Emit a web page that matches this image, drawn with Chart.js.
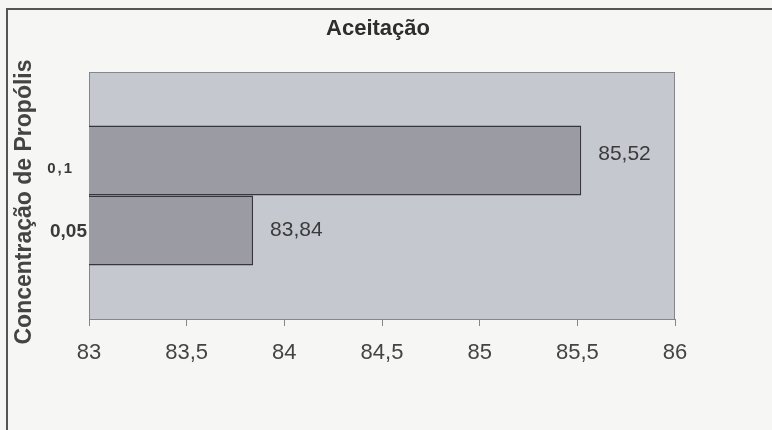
<!DOCTYPE html>
<html><head><meta charset="utf-8">
<script src="https://cdn.jsdelivr.net/npm/chart.js@4"></script>
<style>
html,body{margin:0;padding:0;background:#f6f6f4;}
#wrap{position:relative;width:772px;height:430px;overflow:hidden;}
#frame{position:absolute;left:6px;top:8px;width:800px;height:500px;border-left:2px solid #555;border-top:2px solid #555;}
canvas{position:absolute;left:0;top:0;}
</style></head>
<body><div id="wrap"><div id="frame"></div><canvas id="c" width="772" height="430"></canvas></div>
<script>
const chartTitle = 'Aceitação';
const yAxisTitle = 'Concentração de Propólis';
const concentrations = ['0,1', '0,05'];
const acceptance = [85.52, 83.84];
const xTicks = [83, 83.5, 84, 84.5, 85, 85.5, 86];

const fmt = v => String(v).replace('.', ',');
const labelFonts = ['bold 15px "Liberation Sans", Arial', 'bold 19px "Liberation Sans", Arial'];
const labelSpacing = ['2px', '0px'];
const labelRight = [74, 87];
const labelDy = [8, 1];

const deco = {
  id: 'deco',
  beforeDraw(chart) {
    const {ctx, chartArea: a} = chart;
    ctx.save();
    ctx.fillStyle = '#c6c8d0';
    ctx.fillRect(a.left, a.top, a.right - a.left, a.bottom - a.top);
    ctx.strokeStyle = '#85868c';
    ctx.lineWidth = 1;
    ctx.strokeRect(a.left + 0.5, a.top + 0.5, a.right - a.left - 1, a.bottom - a.top);
    ctx.restore();
  },
  afterDraw(chart) {
    const {ctx, chartArea: a} = chart;
    ctx.save();
    ctx.fillStyle = '#2e2e2e';
    ctx.font = 'bold 22px "Liberation Sans", Arial';
    ctx.textAlign = 'center';
    ctx.textBaseline = 'middle';
    ctx.fillText(chartTitle, (a.left + a.right) / 2 - 4, 29);
    ctx.save();
    ctx.translate(25, 202);
    ctx.rotate(-Math.PI / 2);
    ctx.font = 'bold 23px "Liberation Sans", Arial';
    ctx.fillStyle = '#444';
    ctx.fillText(yAxisTitle, 0, 0);
    ctx.restore();
    chart.data.datasets.forEach((ds, i) => {
      const bar = chart.getDatasetMeta(i).data[0];
      ctx.font = '21px "Liberation Sans", Arial';
      ctx.fillStyle = '#3a3a3a';
      ctx.textAlign = 'left';
      ctx.letterSpacing = '0px';
      ctx.fillText(fmt(ds.data[0]), bar.x + 17, bar.y - (i === 0 ? 6 : 0));
      ctx.font = labelFonts[i];
      ctx.letterSpacing = labelSpacing[i];
      ctx.fillStyle = '#3a3a3a';
      ctx.textAlign = 'right';
      ctx.fillText(ds.label, labelRight[i], bar.y + labelDy[i]);
    });
    ctx.restore();
  }
};

new Chart(document.getElementById('c'), {
  type: 'bar',
  data: {
    labels: [''],
    datasets: concentrations.map((c, i) => ({
      label: c,
      data: [acceptance[i]],
      backgroundColor: '#9a9ba3',
      borderColor: '#36363c',
      borderWidth: 1.5,
      borderSkipped: false,
      categoryPercentage: 0.567,
      barPercentage: 1
    }))
  },
  options: {
    indexAxis: 'y',
    responsive: false,
    animation: false,
    layout: {padding: {left: 0, top: 72, right: 97, bottom: 0}},
    plugins: {legend: {display: false}, tooltip: {enabled: false}, title: {display: false}},
    scales: {
      x: {
        min: xTicks[0], max: xTicks[xTicks.length - 1],
        afterBuildTicks: s => { s.ticks = xTicks.map(v => ({value: v})); },
        afterFit: s => { s.height = 111; },
        grid: {drawOnChartArea: false, drawTicks: true, tickLength: 7, color: '#85868c'},
        border: {display: true, color: '#85868c'},
        ticks: {
          padding: 14,
          color: '#444',
          font: {family: '"Liberation Sans", Arial', size: 22},
          callback: v => fmt(v),
          maxRotation: 0
        }
      },
      y: {
        afterFit: s => { s.width = 89; },
        grid: {display: false},
        border: {display: false},
        ticks: {display: false}
      }
    }
  },
  plugins: [deco]
});
</script></body></html>
